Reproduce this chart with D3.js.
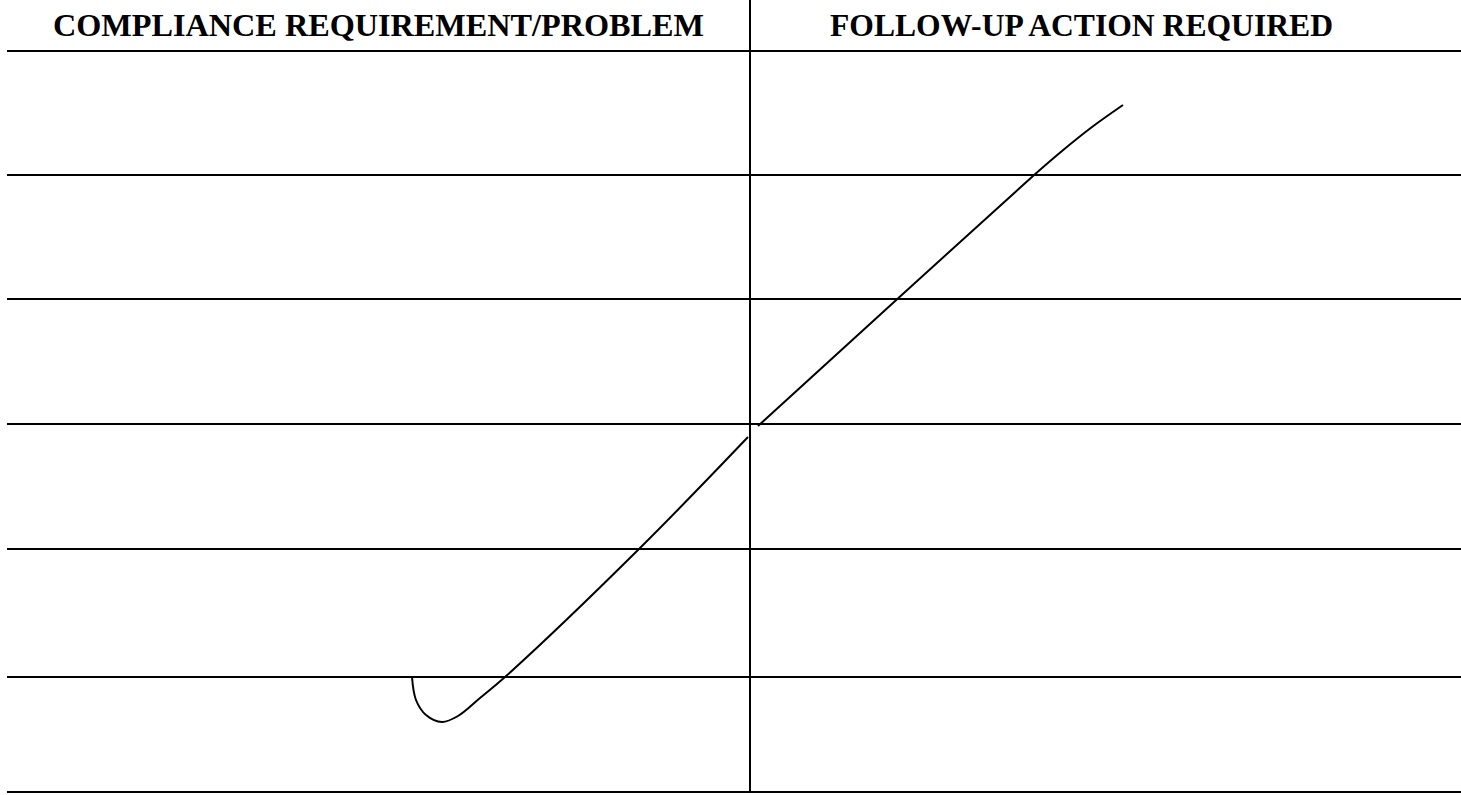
<!DOCTYPE html>
<html>
<head>
<meta charset="utf-8">
<script src="https://cdn.jsdelivr.net/npm/d3@7"></script>
<style>
  body { margin: 0; background: #fff; }
  svg { display: block; }
</style>
</head>
<body>
<div id="wrapper"></div>
<script>
// column headings
const headings = ["COMPLIANCE REQUIREMENT/PROBLEM", "FOLLOW-UP ACTION REQUIRED"]

// form rows: y positions of the ruled lines (page units)
const ruleLines = [51, 175, 299, 424, 549, 677, 792]

// hand-drawn stroke across the form (two pieces, broken at the divider)
const strokeX = [412, 416, 426, 442, 458, 480, 505, 640, 748]
const strokeY = [677, 700, 715, 722, 716, 698, 677, 548, 437]
const stroke2X = [758, 1033, 1062, 1092, 1123]
const stroke2Y = [426, 176, 151, 127, 105]

function drawForm() {
    const dimensions = {
        width: 1461,
        height: 795,
    }

    const wrapper = d3.select("#wrapper")
        .append("svg")
        .attr("width", dimensions.width)
        .attr("height", dimensions.height)

    const xScale = d3.scaleLinear()
        .domain([0, 1461])
        .range([0, dimensions.width])
    const yScale = d3.scaleLinear()
        .domain([0, 795])
        .range([0, dimensions.height])

    const dividerX = 750

    // ruled lines
    wrapper.selectAll("line.rule")
        .data(ruleLines)
        .join("line")
        .attr("class", "rule")
        .attr("x1", xScale(7))
        .attr("x2", xScale(1461))
        .attr("y1", d => yScale(d))
        .attr("y2", d => yScale(d))
        .attr("stroke", "#000")
        .attr("stroke-width", 2)

    // column divider
    wrapper.append("line")
        .attr("x1", xScale(dividerX))
        .attr("x2", xScale(dividerX))
        .attr("y1", yScale(0))
        .attr("y2", yScale(793))
        .attr("stroke", "#000")
        .attr("stroke-width", 2)

    // headings
    const headX = [[53, 704], [830, 1333]]
    wrapper.selectAll("text.head")
        .data(headings)
        .join("text")
        .attr("class", "head")
        .attr("x", (d, i) => xScale(headX[i][0]))
        .attr("y", yScale(36))
        .attr("textLength", (d, i) => xScale(headX[i][1]) - xScale(headX[i][0]))
        .attr("lengthAdjust", "spacingAndGlyphs")
        .style("font-family", "'Liberation Serif', 'Times New Roman', serif")
        .style("font-weight", "bold")
        .style("font-size", "32px")
        .attr("fill", "#000")
        .text(d => d)

    // the stroke
    const line = d3.line()
        .x(d => xScale(d[0]))
        .y(d => yScale(d[1]))
        .curve(d3.curveCatmullRom.alpha(0.5))

    const pts1 = strokeX.map((x, i) => [x, strokeY[i]])
    const pts2 = stroke2X.map((x, i) => [x, stroke2Y[i]])

    wrapper.selectAll("path.stroke")
        .data([pts1, pts2])
        .join("path")
        .attr("class", "stroke")
        .attr("d", line)
        .attr("fill", "none")
        .attr("stroke", "#000")
        .attr("stroke-width", 2)
}

drawForm()
</script>
</body>
</html>
